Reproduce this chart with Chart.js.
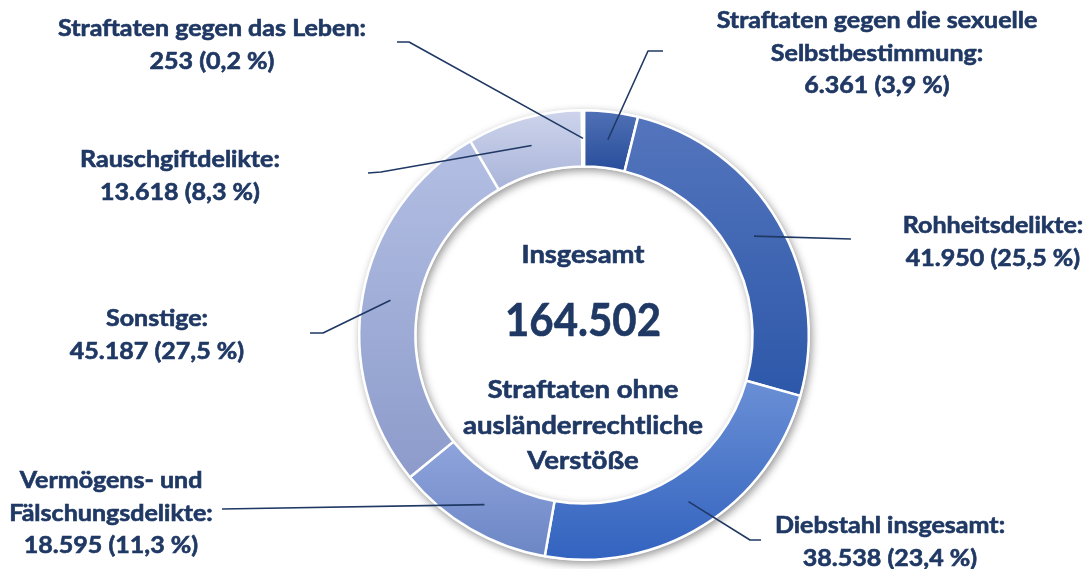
<!DOCTYPE html>
<html>
<head>
<meta charset="utf-8">
<script src="https://cdn.jsdelivr.net/npm/chart.js@4.4.0/dist/chart.umd.min.js"></script>
<style>
  html, body { margin: 0; padding: 0; background: #ffffff; }
  #wrap { width: 1086px; height: 569px; position: relative; }
</style>
</head>
<body>
<div id="wrap"><canvas id="c"></canvas></div>
<script>
// ---- data ----
const categories = [
  'Straftaten gegen die sexuelle Selbstbestimmung',
  'Rohheitsdelikte',
  'Diebstahl insgesamt',
  'Vermögens- und Fälschungsdelikte',
  'Sonstige',
  'Rauschgiftdelikte',
  'Straftaten gegen das Leben'
];
const values = [6361, 41950, 38538, 18595, 45187, 13618, 253];
const labelLines = [
  ['Straftaten gegen die sexuelle', 'Selbstbestimmung:'],
  ['Rohheitsdelikte:'],
  ['Diebstahl insgesamt:'],
  ['Vermögens- und', 'Fälschungsdelikte:'],
  ['Sonstige:'],
  ['Rauschgiftdelikte:'],
  ['Straftaten gegen das Leben:']
];
const centerTitle = 'Insgesamt';
const centerTotal = '164.502';
const centerSubtitle = ['Straftaten ohne', 'ausländerrechtliche', 'Verstöße'];

// ---- styles ----
const topColors    = ['#5071b6', '#5475bd', '#6a8fd5', '#8fa4dc', '#b3bfe3', '#cdd4eb', '#e3e8f5'];
const bottomColors = ['#284d9a', '#2d58a9', '#3263bf', '#6c86c5', '#8d9bcb', '#a9b4d9', '#d6ddef'];
const textColor = '#1f3864';

function fmtNum(v) {
  return String(v).replace(/\B(?=(\d{3})+(?!\d))/g, '.');
}
const total = values.reduce((a, b) => a + b, 0);
function fmtPct(v) {
  return (v / total * 100).toFixed(1).replace('.', ',') + ' %';
}

// layout for labels: center x, first line y, leader path (label end -> elbow)
const labelLayout = [
  { x: 877, y: 21, path: [[663, 51], [648, 51]] },
  { x: 993, y: 226, path: [[851, 239]] },
  { x: 890, y: 526, path: [[761, 540], [750, 540]] },
  { x: 111, y: 481, path: [[222, 509]] },
  { x: 157, y: 319, path: [[310, 333], [323, 333]] },
  { x: 180, y: 160, path: [[368, 173], [381, 172]] },
  { x: 212, y: 29, path: [[397, 42], [409, 42]] }
];
const lineH = 32.5;

const FONT = 'Lato, "Noto Sans", sans-serif';

// draws bold text with a given font size, horizontally compressed by sx
function drawText(ctx, text, x, y, size, sx) {
  ctx.save();
  ctx.font = 'bold ' + size.toFixed(2) + 'px ' + FONT;
  ctx.translate(x, y);
  ctx.scale(sx, 1);
  ctx.fillText(text, 0, 0);
  ctx.lineWidth = 0.6;
  ctx.strokeStyle = textColor;
  ctx.strokeText(text, 0, 0);
  ctx.restore();
}
function scaleFor(ctx, text, size, targetW) {
  ctx.font = 'bold ' + size.toFixed(2) + 'px ' + FONT;
  return targetW / ctx.measureText(text).width;
}

const ringShadow = {
  id: 'ringShadow',
  beforeDatasetsDraw(chart) {
    const meta = chart.getDatasetMeta(0);
    const el = meta.data[0];
    if (!el) return;
    const { x, y, outerRadius, innerRadius } = el.getProps(['x', 'y', 'outerRadius', 'innerRadius'], true);
    const ctx = chart.ctx;
    ctx.save();
    ctx.shadowColor = 'rgba(0,0,0,0.42)';
    ctx.shadowBlur = 8;
    ctx.shadowOffsetX = 2;
    ctx.shadowOffsetY = 3;
    ctx.beginPath();
    ctx.arc(x, y, outerRadius + 1, 0, Math.PI * 2);
    ctx.arc(x, y, innerRadius - 1, 0, Math.PI * 2, true);
    ctx.closePath();
    ctx.fillStyle = '#ffffff';
    ctx.fill();
    ctx.restore();

    // per-segment vertical gradients
    meta.data.forEach((arc, i) => {
      const p = arc.getProps(['x', 'y', 'startAngle', 'endAngle', 'outerRadius', 'innerRadius'], true);
      let ymin = Infinity, ymax = -Infinity;
      const n = 40;
      for (let k = 0; k <= n; k++) {
        const a = p.startAngle + (p.endAngle - p.startAngle) * k / n;
        [p.outerRadius, p.innerRadius].forEach(r => {
          const yy = p.y + Math.sin(a) * r;
          ymin = Math.min(ymin, yy); ymax = Math.max(ymax, yy);
        });
      }
      if (ymax - ymin < 1) ymax = ymin + 1;
      const g = ctx.createLinearGradient(0, ymin, 0, ymax);
      g.addColorStop(0, topColors[i]);
      g.addColorStop(1, bottomColors[i]);
      arc.options = Object.assign({}, arc.options, { backgroundColor: g });
    });
  }
};

const annotations = {
  id: 'annotations',
  afterDatasetsDraw(chart) {
    const ctx = chart.ctx;
    const meta = chart.getDatasetMeta(0);

    // leader lines
    ctx.save();
    ctx.strokeStyle = textColor;
    ctx.lineWidth = 1.6;
    ctx.lineJoin = 'round';
    meta.data.forEach((arc, i) => {
      const p = arc.getProps(['x', 'y', 'startAngle', 'endAngle', 'outerRadius', 'innerRadius'], true);
      const mid = (p.startAngle + p.endAngle) / 2;
      const r = (p.outerRadius + p.innerRadius) / 2;
      const ax = p.x + Math.cos(mid) * r;
      const ay = p.y + Math.sin(mid) * r;
      const path = labelLayout[i].path;
      ctx.beginPath();
      ctx.moveTo(path[0][0], path[0][1]);
      for (let k = 1; k < path.length; k++) ctx.lineTo(path[k][0], path[k][1]);
      ctx.lineTo(ax, ay);
      ctx.stroke();
    });
    ctx.restore();

    // labels
    ctx.save();
    ctx.fillStyle = textColor;
    ctx.textAlign = 'center';
    ctx.textBaseline = 'middle';
    const labelSize = 22;
    const sxL = scaleFor(ctx, 'Straftaten gegen das Leben:', labelSize, 308);
    categories.forEach((c, i) => {
      const lines = labelLines[i].concat([fmtNum(values[i]) + ' (' + fmtPct(values[i]) + ')']);
      const L = labelLayout[i];
      lines.forEach((t, k) => drawText(ctx, t, L.x, L.y + k * lineH, labelSize, sxL));
    });

    // center text
    const cx = meta.data[0].x - 1;
    const s1 = 24.5;
    drawText(ctx, centerTitle, cx, 255, s1, scaleFor(ctx, centerTitle, s1, 123));
    const s2 = 45;
    drawText(ctx, centerTotal, cx, 321, s2, scaleFor(ctx, centerTotal, s2, 156));
    const s3 = 25;
    const sx3 = scaleFor(ctx, centerSubtitle[1], s3, 240);
    centerSubtitle.forEach((t, k) => drawText(ctx, t, cx, 390 + k * 35.5, s3, sx3));
    ctx.restore();
  }
};

new Chart(document.getElementById('c'), {
  type: 'doughnut',
  data: {
    labels: categories,
    datasets: [{
      data: values,
      backgroundColor: topColors,
      borderColor: '#ffffff',
      borderWidth: 2.5,
      hoverOffset: 0
    }]
  },
  options: {
    responsive: true,
    maintainAspectRatio: false,
    animation: false,
    cutout: '75%',
    layout: { padding: { top: 109, bottom: 8, left: 300, right: 218 } },
    plugins: {
      legend: { display: false },
      tooltip: { enabled: false }
    },
    events: []
  },
  plugins: [ringShadow, annotations]
});
</script>
</body>
</html>
